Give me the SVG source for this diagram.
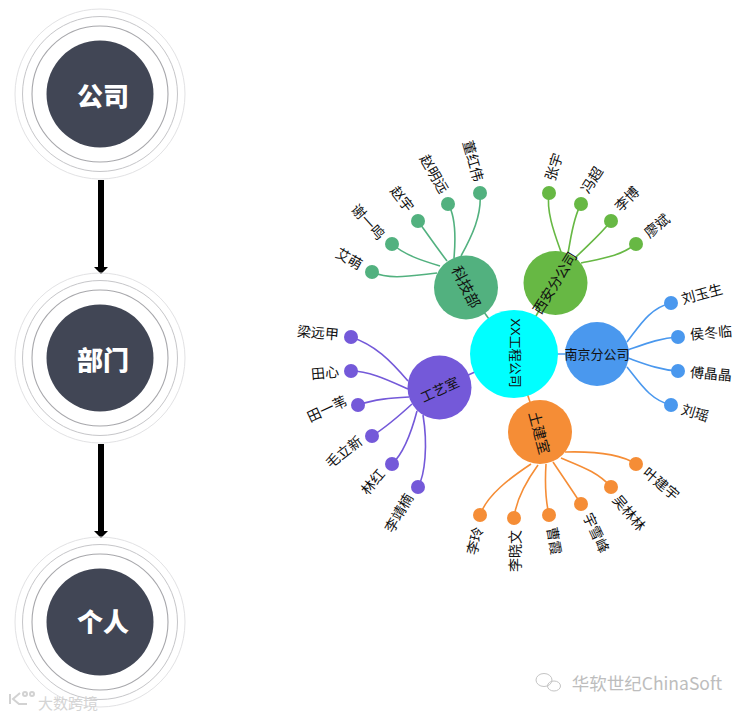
<svg xmlns="http://www.w3.org/2000/svg" width="747" height="715" viewBox="0 0 747 715">
<style>
text{font-family:"Liberation Sans","Noto Sans CJK SC",sans-serif;text-anchor:middle;dominant-baseline:central;fill:#111}
.hub{font-size:13px}
.leaf{font-size:14px}
.big{font-family:"Noto Sans CJK SC",sans-serif;font-size:26px;font-weight:900;fill:#fff}
.disc{fill:#414655}
.r1{fill:none;stroke:#a8a8ac;stroke-width:1.100}
.r2{fill:none;stroke:#c6c6c9;stroke-width:1}
.r3{fill:none;stroke:#e2e2e4;stroke-width:1}
.c{fill:none;stroke-width:1.600}
.green{stroke:#52b17f}.lime{stroke:#67b844}.blue{stroke:#4a98ee}.purple{stroke:#7459d9}.orange{stroke:#f58d36}
.fg{fill:#52b17f}.fl{fill:#67b844}.fb{fill:#4a98ee}.fp{fill:#7459d9}.fo{fill:#f58d36}
.wm{font-family:"Noto Sans CJK SC",sans-serif}
</style>
<defs>
<g id="rings"><circle class="r3" r="85"/><circle class="r2" r="77.500"/><circle class="r1" r="68"/><circle class="disc" r="53.500"/></g>
</defs>
<g id="flow-connectors">
<path d="M98 180H104V267H108L101 274L94 267H98Z" fill="#000"/>
<path d="M98 444H104V531H108L101 538L94 531H98Z" fill="#000"/>
</g>
<g id="node-company" transform="translate(100,94)"><use href="#rings"/><text class="big" x="3" y="0">公司</text></g>
<g id="node-dept" transform="translate(100,358)"><use href="#rings"/><text class="big" x="3" y="0">部门</text></g>
<g id="node-person" transform="translate(100,622)"><use href="#rings"/><text class="big" x="3" y="-2">个人</text></g>
<g id="connectors">
<path class="c green" d="M514 354L466 287"/><path class="c lime" d="M514 354L555 283"/><path class="c blue" d="M514 354L597 354"/><path class="c purple" d="M514 354L440 388"/><path class="c orange" d="M514 354L540 432"/>
<path class="c green" d="M372 272C390 280 410 276 437 273"/>
<path class="c green" d="M392 244C405 255 420 260 440 266"/>
<path class="c green" d="M418 221C428 235 437 248 447 261"/>
<path class="c green" d="M448 204C455 215 456 235 454 258"/>
<path class="c green" d="M480 193C482 215 472 236 461 256"/>
<path class="c lime" d="M549 193C546 212 555 235 561 252"/>
<path class="c lime" d="M581 204C573 218 571 238 568 253"/>
<path class="c lime" d="M611 221C600 235 590 243 575 258"/>
<path class="c lime" d="M636 244C620 256 605 258 581 263"/>
<path class="c blue" d="M671 303C650 308 640 325 627 342"/>
<path class="c blue" d="M678 337C660 338 645 344 628 350"/>
<path class="c blue" d="M678 371C660 370 645 364 628 358"/>
<path class="c blue" d="M671 405C650 400 640 383 627 367"/>
<path class="c purple" d="M351 337C375 345 390 360 408 381"/>
<path class="c purple" d="M351 371C370 371 390 381 408 389"/>
<path class="c purple" d="M358 405C375 399 392 398 409 397"/>
<path class="c purple" d="M372 436C388 426 400 415 412 404"/>
<path class="c purple" d="M392 464C405 452 412 430 417 411"/>
<path class="c purple" d="M418 487C425 475 428 445 423 415"/>
<path class="c orange" d="M480 515C487 495 510 478 531 464"/>
<path class="c orange" d="M514 518C516 500 525 483 538 465"/>
<path class="c orange" d="M549 515C545 498 545 480 546 464"/>
<path class="c orange" d="M581 504C572 490 563 477 553 462"/>
<path class="c orange" d="M611 487C598 472 580 466 561 458"/>
<path class="c orange" d="M636 464C622 455 600 451 565 452"/>
</g>
<g id="node-root"><circle cx="514" cy="354" r="44" fill="#00ffff"/><text class="hub" transform="translate(515,353) rotate(90)">XX工程公司</text></g>
<g id="node-keji"><circle class="fg" cx="466" cy="287.500" r="32"/><text class="hub" style="font-size:15px" transform="translate(466,287) rotate(63)">科技部</text></g>
<g id="node-xian"><circle class="fl" cx="555.500" cy="283" r="32"/><text class="hub" style="font-size:14px" transform="translate(555,283) rotate(-58)">西安分公司</text></g>
<g id="node-nanjing"><circle class="fb" cx="597" cy="354" r="32"/><text class="hub" x="597" y="354">南京分公司</text></g>
<g id="node-gongyi"><circle class="fp" cx="439.500" cy="387.500" r="32"/><text class="hub" style="font-size:13.500px" transform="translate(440,390) rotate(-25)">工艺室</text></g>
<g id="node-tujian"><circle class="fo" cx="540" cy="432" r="32"/><text class="hub" style="font-size:14.500px" transform="translate(539,433) rotate(75)">土建室</text></g>
<g id="leaf-aimeng"><circle class="fg" cx="372" cy="272" r="7"/><text class="leaf" transform="translate(349,259) rotate(30)">艾萌</text></g>
<g id="leaf-xie"><circle class="fg" cx="392" cy="244" r="7"/><text class="leaf" transform="translate(368,222) rotate(48)">谢一鸣</text></g>
<g id="leaf-zhaoyu"><circle class="fg" cx="418" cy="221" r="7"/><text class="leaf" transform="translate(402,199) rotate(52)">赵宇</text></g>
<g id="leaf-zhaoming"><circle class="fg" cx="448" cy="204" r="7"/><text class="leaf" transform="translate(434,174) rotate(60)">赵明远</text></g>
<g id="leaf-dong"><circle class="fg" cx="480" cy="193" r="7"/><text class="leaf" transform="translate(473,161) rotate(74)">董红伟</text></g>
<g id="leaf-zhangyu"><circle class="fl" cx="549" cy="193" r="7"/><text class="leaf" transform="translate(554,167) rotate(-72)">张宇</text></g>
<g id="leaf-feng"><circle class="fl" cx="581" cy="204" r="7"/><text class="leaf" transform="translate(592,180) rotate(-58)">冯超</text></g>
<g id="leaf-libo"><circle class="fl" cx="611" cy="221" r="7"/><text class="leaf" transform="translate(627,199) rotate(-45)">李博</text></g>
<g id="leaf-liao"><circle class="fl" cx="636" cy="244" r="7"/><text class="leaf" transform="translate(657,226) rotate(-40)">廖斌</text></g>
<g id="leaf-liuyu"><circle class="fb" cx="671" cy="303" r="7"/><text class="leaf" transform="translate(702,294) rotate(-15)">刘玉生</text></g>
<g id="leaf-hou"><circle class="fb" cx="678" cy="337" r="7"/><text class="leaf" transform="translate(711,333) rotate(-5)">侯冬临</text></g>
<g id="leaf-fu"><circle class="fb" cx="678" cy="371" r="7"/><text class="leaf" transform="translate(711,374) rotate(5)">傅晶晶</text></g>
<g id="leaf-liuyao"><circle class="fb" cx="671" cy="405" r="7"/><text class="leaf" transform="translate(695,413) rotate(17)">刘瑶</text></g>
<g id="leaf-liang"><circle class="fp" cx="351" cy="337" r="7"/><text class="leaf" transform="translate(318,333) rotate(5)">梁远甲</text></g>
<g id="leaf-tianxin"><circle class="fp" cx="351" cy="371" r="7"/><text class="leaf" transform="translate(325,373) rotate(-5)">田心</text></g>
<g id="leaf-tianyi"><circle class="fp" cx="358" cy="405" r="7"/><text class="leaf" transform="translate(327,409) rotate(-25)">田一苇</text></g>
<g id="leaf-mao"><circle class="fp" cx="372" cy="436" r="7"/><text class="leaf" transform="translate(344,452) rotate(-38)">毛立新</text></g>
<g id="leaf-lin"><circle class="fp" cx="392" cy="464" r="7"/><text class="leaf" transform="translate(373,482) rotate(-50)">林红</text></g>
<g id="leaf-lijing"><circle class="fp" cx="418" cy="487" r="7"/><text class="leaf" transform="translate(399,513) rotate(-60)">李靖楠</text></g>
<g id="leaf-liling"><circle class="fo" cx="480" cy="515" r="7"/><text class="leaf" transform="translate(475,541) rotate(-75)">李玲</text></g>
<g id="leaf-lixiao"><circle class="fo" cx="514" cy="518" r="7"/><text class="leaf" transform="translate(515,551) rotate(-90)">李晓文</text></g>
<g id="leaf-cao"><circle class="fo" cx="549" cy="515" r="7"/><text class="leaf" transform="translate(554,541) rotate(80)">曹霞</text></g>
<g id="leaf-yu"><circle class="fo" cx="581" cy="504" r="7"/><text class="leaf" transform="translate(596,533) rotate(65)">宇雪峰</text></g>
<g id="leaf-wu"><circle class="fo" cx="611" cy="487" r="7"/><text class="leaf" transform="translate(629,513) rotate(50)">吴林林</text></g>
<g id="leaf-ye"><circle class="fo" cx="636" cy="464" r="7"/><text class="leaf" transform="translate(661,484) rotate(40)">叶建宇</text></g>
<g id="wm-left" fill="none" stroke="#d2d2d2" stroke-width="2">
<path d="M10 694V704M20 693L13 699L19 704H27"/><circle cx="25" cy="694" r="2"/><circle cx="32" cy="694" r="2"/>
<text class="wm" x="68" y="702" style="font-size:15px;fill:#d4d4d4;stroke:none">大数跨境</text>
</g>
<g id="wm-right">
<g fill="none" stroke="#c4c4c4" stroke-width="1"><ellipse cx="544" cy="680" rx="8" ry="6.500"/><ellipse cx="554" cy="686" rx="6.500" ry="5"/></g>
<text class="wm" x="647" y="682" style="font-size:17.500px;fill:#bdbdbd">华软世纪ChinaSoft</text>
</g>
</svg>
